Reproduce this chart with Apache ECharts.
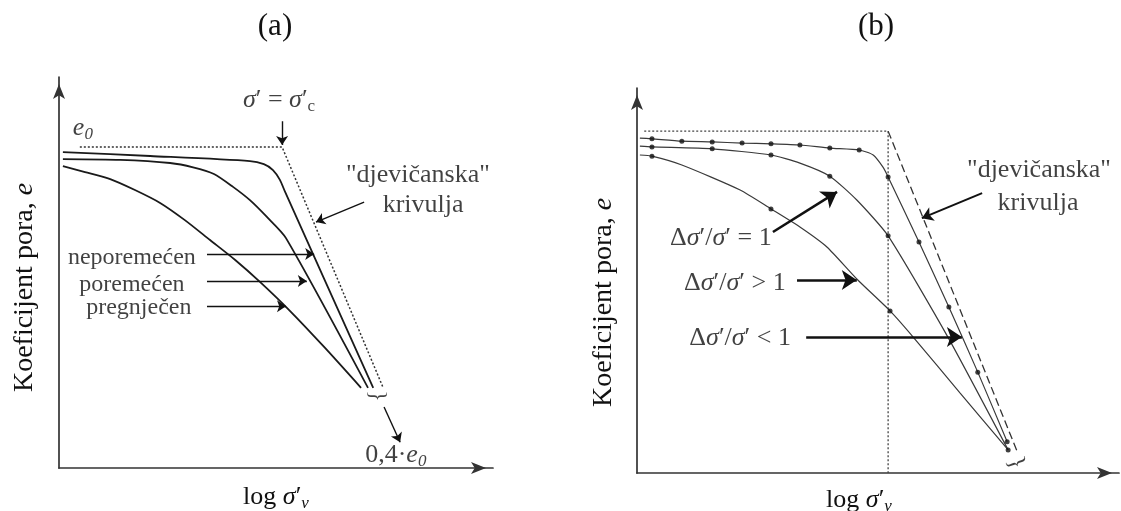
<!DOCTYPE html>
<html>
<head>
<meta charset="UTF-8">
<title>Koeficijent pora - log σ'v</title>
<style>
  html, body { margin: 0; padding: 0; background: #fff; }
  #main { width: 1121px; height: 511px; }
</style>
</head>
<body>
<div id="main"></div>
<script src="https://cdn.jsdelivr.net/npm/echarts@6/dist/echarts.min.js"></script>
<script>
var FONT = '"Liberation Serif", "Times New Roman", serif';
var INK = '#111';

// obje osi u relativnim jedinicama 0..100 (shema, bez brojeva na osima)

// (a) neporemecen / poremecen / pregnjecen uzorak
var aVirgin = [[4.8, 82.1], [51.4, 82.1], [74.7, 20.5]];
var aUndisturbed = [[0.9, 80.8], [21.0, 79.8], [44.0, 78.5], [47.2, 77.7], [49.3, 76.2], [50.9, 73.7], [52.1, 70.6], [72.4, 20.5]];
var aDisturbed = [[0.9, 79.0], [14.1, 78.8], [25.6, 78.0], [30.9, 76.9], [35.7, 75.2], [40.1, 71.9], [44.0, 68.5], [47.9, 64.2], [52.3, 58.8], [71.2, 20.5]];
var aRemoulded = [[0.9, 77.2], [6.0, 75.7], [11.8, 73.9], [17.5, 71.1], [23.3, 67.8], [29.0, 63.4], [34.8, 58.3], [40.6, 53.2], [46.3, 47.6], [53.2, 40.2], [61.3, 30.7], [69.6, 20.5]];
var aArrows = [
  [[51.4, 88.7], [51.4, 82.6]],
  [[70.3, 68.0], [59.2, 62.9]],
  [[34.1, 54.7], [58.8, 54.7]],
  [[34.1, 47.8], [57.1, 47.8]],
  [[34.1, 41.4], [52.3, 41.4]],
  [[74.9, 15.6], [78.6, 6.6]]
];
var aNoteText = ['{i|e}{si|0}', '{i|σ}{r|′ = }{i|σ}{r|′}{sr|c}', '{r|"djevičanska"}', '{r|krivulja}',
  '{m|neporemećen}', '{m|poremećen}', '{m|pregnječen}', '{r|0,4·}{i|e}{si|0}'];
var aNotePos = [[5.5, 87.0], [50.7, 94.1], [82.7, 74.9], [83.9, 67.3], [16.8, 53.7], [16.8, 46.8], [18.4, 40.9], [77.6, 3.3]];
var aBracePos = [73.3, 18.4];

// (b) razliciti omjeri prirasta opterecenja
var bGuide = [[1.5, 88.8], [52.1, 88.8], [52.1, 0]];
var bVirgin = [[52.1, 88.8], [79.0, 5.2]];
var bLess = [[0.6, 87.0], [3.1, 86.8], [9.3, 86.2], [15.6, 86.0], [21.8, 85.7], [27.8, 85.5], [33.8, 85.2], [40.0, 84.4], [46.1, 83.9], [49.0, 82.6], [51.0, 79.5], [52.1, 76.9], [58.5, 60.0], [64.7, 43.1], [70.7, 26.2], [76.8, 8.1]];
var bEqual = [[0.6, 84.9], [3.1, 84.7], [15.6, 84.2], [27.8, 82.6], [33.8, 80.5], [40.0, 77.1], [45.6, 70.9], [52.1, 61.6], [64.5, 35.3], [77.0, 6.0]];
var bGreater = [[0.6, 82.6], [3.1, 82.3], [9.3, 80.0], [21.4, 73.5], [27.8, 68.6], [33.8, 63.9], [39.4, 58.7], [45.6, 50.4], [52.5, 42.1], [57.3, 35.3], [67.0, 20.8], [77.0, 6.0]];
var bDots = [
  [3.1, 86.8], [9.3, 86.2], [15.6, 86.0], [21.8, 85.7], [27.8, 85.5], [33.8, 85.2], [40.0, 84.4], [46.1, 83.9],
  [52.1, 76.9], [58.5, 60.0], [64.7, 43.1], [70.7, 26.2], [76.8, 8.1],
  [3.1, 84.7], [15.6, 84.2], [27.8, 82.6], [40.0, 77.1], [52.1, 61.6], [77.0, 6.0],
  [3.1, 82.3], [27.8, 68.6], [52.5, 42.1]
];
var bRatioArrows = [
  [[28.2, 62.6], [41.5, 73.0]],
  [[33.2, 50.1], [45.6, 50.1]],
  [[35.1, 35.3], [67.4, 35.3]]
];
var bVirginArrow = [[[71.6, 72.7], [59.1, 66.2]]];
var bNoteText = ['{r|Δ}{i|σ}{r|′/}{i|σ}{r|′ = 1}', '{r|Δ}{i|σ}{r|′/}{i|σ}{r|′ > 1}', '{r|Δ}{i|σ}{r|′/}{i|σ}{r|′ < 1}',
  '{r|"djevičanska"}', '{r|krivulja}'];
var bNotePos = [[17.4, 61.0], [20.3, 49.4], [21.4, 35.1], [83.4, 78.7], [83.2, 70.1]];
var bBracePos = [78.6, 2.6];

var richNotes = {
  r: { fontFamily: FONT, fontSize: 26, lineHeight: 30, color: INK },
  i: { fontFamily: FONT, fontSize: 26, lineHeight: 30, fontStyle: 'italic', color: INK },
  m: { fontFamily: FONT, fontSize: 24, lineHeight: 28, color: INK },
  sr: { fontFamily: FONT, fontSize: 17, lineHeight: 16, verticalAlign: 'bottom', color: INK },
  si: { fontFamily: FONT, fontSize: 17, lineHeight: 16, fontStyle: 'italic', verticalAlign: 'bottom', color: INK },
  R: { fontFamily: FONT, fontSize: 28, lineHeight: 32, color: INK },
  I: { fontFamily: FONT, fontSize: 28, lineHeight: 32, fontStyle: 'italic', color: INK }
};

function curve(data, idx, color, width, type, smooth) {
  return {
    type: 'line', xAxisIndex: idx, yAxisIndex: idx, data: data,
    symbol: 'none', showSymbol: false, smooth: smooth, silent: true, z: 2,
    lineStyle: { color: color, width: width, type: type }
  };
}

function arrows(list, idx, width, head) {
  return {
    type: 'lines', coordinateSystem: 'cartesian2d', xAxisIndex: idx, yAxisIndex: idx,
    symbol: ['none', 'arrow'], symbolSize: head, silent: true, z: 4,
    lineStyle: { color: INK, width: width, opacity: 1, curveness: 0 },
    data: list.map(function (c) { return { coords: c }; })
  };
}

function notes(texts, pos, idx) {
  return {
    type: 'scatter', xAxisIndex: idx, yAxisIndex: idx, symbolSize: 0, clip: false, silent: true, z: 5,
    itemStyle: { color: 'transparent' },
    label: { show: true, position: 'inside', color: INK, fontFamily: FONT, rich: richNotes },
    data: texts.map(function (t, k) { return { value: pos[k], label: { formatter: t } }; })
  };
}

function brace(pos, idx, rot) {
  return {
    type: 'scatter', xAxisIndex: idx, yAxisIndex: idx, symbolSize: 0, clip: false, silent: true, z: 5,
    itemStyle: { color: 'transparent' },
    label: { show: true, position: 'inside', formatter: '}', rotate: rot, color: INK, fontFamily: FONT, fontSize: 24 },
    data: [pos]
  };
}

function xAx(idx, gap, pad) {
  return {
    gridIndex: idx, type: 'value', min: 0, max: 100,
    axisLine: { onZero: false, symbol: ['none', 'arrow'], symbolSize: [9, 15], symbolOffset: [0, -7],
      lineStyle: { color: '#333', width: 1.7 } },
    axisTick: { show: false }, axisLabel: { show: false }, splitLine: { show: false },
    name: '{r|log }{i|σ}{r|′}{si|v}', nameLocation: 'middle', nameGap: gap,
    nameTextStyle: { rich: richNotes, padding: pad }
  };
}

function yAx(idx, gap, pad) {
  return {
    gridIndex: idx, type: 'value', min: 0, max: 100,
    axisLine: { onZero: false, symbol: ['none', 'arrow'], symbolSize: [9, 15], symbolOffset: [0, -7],
      lineStyle: { color: '#333', width: 1.7 } },
    axisTick: { show: false }, axisLabel: { show: false }, splitLine: { show: false },
    name: '{R|Koeficijent pora, }{I|e}', nameLocation: 'middle', nameGap: gap,
    nameTextStyle: { rich: richNotes, padding: pad }
  };
}

var chart = echarts.init(document.getElementById('main'));
chart.setOption({
  backgroundColor: '#fff',
  animation: false,
  title: [
    { text: '(a)', left: 275, top: 11, padding: 0, textAlign: 'center',
      textStyle: { fontFamily: FONT, fontSize: 31, fontWeight: 'normal', color: INK } },
    { text: '(b)', left: 876, top: 11, padding: 0, textAlign: 'center',
      textStyle: { fontFamily: FONT, fontSize: 31, fontWeight: 'normal', color: INK } }
  ],
  grid: [
    { left: 59, top: 77, width: 434, height: 391, outerBoundsMode: 'none' },
    { left: 637, top: 88, width: 482, height: 385, outerBoundsMode: 'none' }
  ],
  xAxis: [xAx(0, 14, [0, 0, 0, 0]), xAx(1, 12, [0, 38, 0, 0])],
  yAxis: [yAx(0, 18, [0, 30, 0, 0]), yAx(1, 17, [0, 44, 0, 0])],
  series: [
    curve(aVirgin, 0, '#333', 1.5, [2, 2], false),
    curve(aUndisturbed, 0, '#1a1a1a', 1.8, 'solid', 0.25),
    curve(aDisturbed, 0, '#1a1a1a', 1.8, 'solid', 0.25),
    curve(aRemoulded, 0, '#1a1a1a', 1.8, 'solid', 0.25),
    arrows(aArrows, 0, 1.4, 9),
    notes(aNoteText, aNotePos, 0),
    brace(aBracePos, 0, -90),

    curve(bGuide, 1, '#444', 1.3, [2, 2], false),
    curve(bVirgin, 1, '#333', 1.3, [8, 4], false),
    curve(bLess, 1, '#3a3a3a', 1.2, 'solid', 0.2),
    curve(bEqual, 1, '#3a3a3a', 1.2, 'solid', 0.2),
    curve(bGreater, 1, '#3a3a3a', 1.2, 'solid', 0.2),
    {
      type: 'scatter', xAxisIndex: 1, yAxisIndex: 1, data: bDots, symbol: 'circle', symbolSize: 5,
      silent: true, z: 3, itemStyle: { color: '#111' }
    },
    arrows(bRatioArrows, 1, 2.6, 15),
    arrows(bVirginArrow, 1, 2, 11),
    notes(bNoteText, bNotePos, 1),
    brace(bBracePos, 1, -70)
  ]
});
</script>
</body>
</html>
